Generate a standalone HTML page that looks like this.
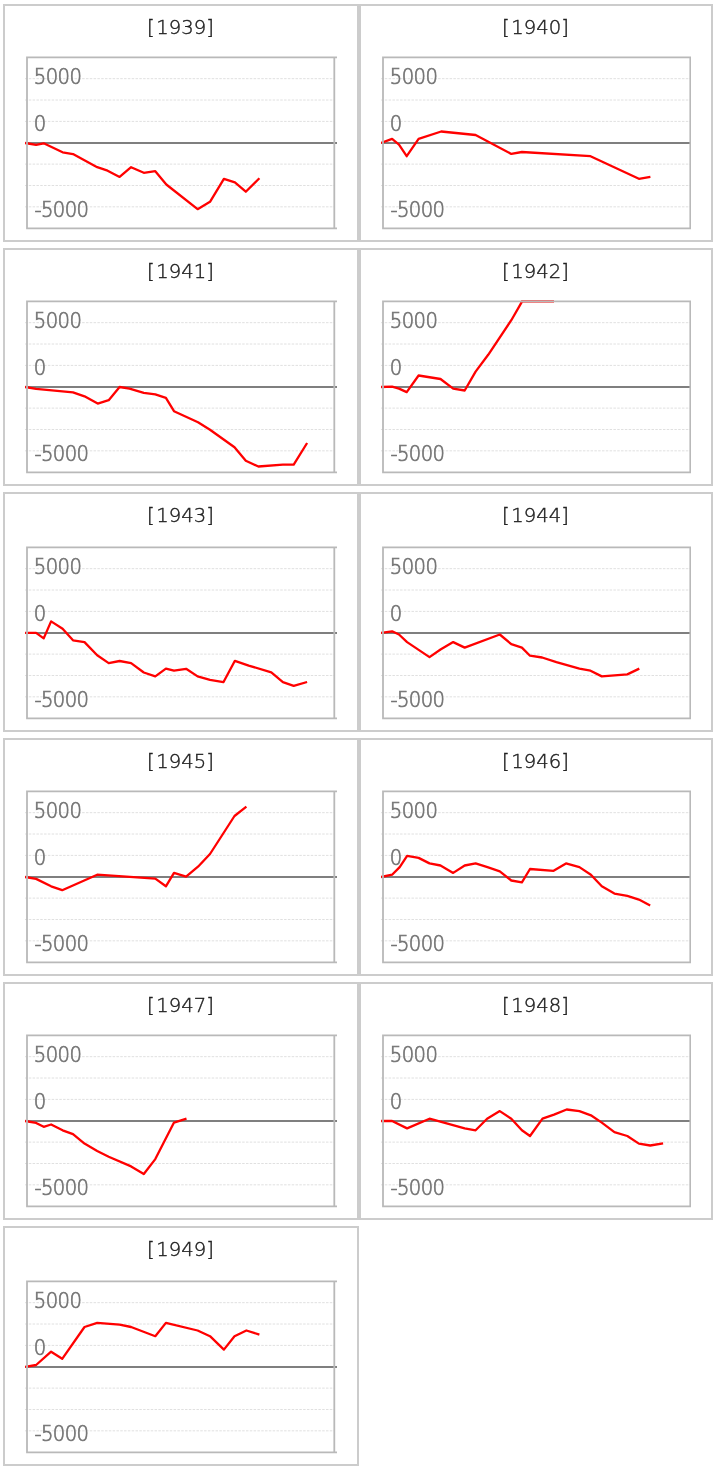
<!DOCTYPE html>
<html lang="ja">
<head>
<meta charset="utf-8">
<title>1939 - 1949</title>
<style>
html,body{margin:0;padding:0;background:#fff;}
body{width:716px;height:1469px;position:relative;overflow:hidden;font-family:"DejaVu Sans","Liberation Sans",sans-serif;}
.card{position:absolute;box-sizing:border-box;border:2px solid #ccc;background:#fff;}
.card h3{position:absolute;left:-0.5px;right:0.5px;top:8.8px;margin:0;font-size:20px;line-height:24px;font-weight:200;text-align:center;color:#222;-webkit-text-stroke:0.42px #222;}
.card h3 span{display:inline-block;transform:translateX(0.4px) scaleX(0.98);transform-origin:50% 50%;}
.card h3 i{font-style:normal;}
.card h3 i.l{margin-right:1.65px;}
.card h3 i.r{margin-left:0;}
.card .chart{position:absolute;left:20px;right:20px;top:40px;bottom:0;overflow:hidden;}
.card .chart svg{position:absolute;left:-22px;top:-42px;overflow:visible;}
.grid{stroke:#e0e0e0;stroke-width:1;stroke-dasharray:2.5 1.31;fill:none;}
.zero{stroke:#7f7f7f;stroke-width:2;fill:none;}
.box{stroke:#b9b9b9;stroke-width:1.8;fill:none;}
.line{stroke:#ff0000;stroke-width:2.3;fill:none;stroke-linejoin:round;stroke-linecap:butt;}
.clip{stroke:#f44;stroke-width:2.6;fill:none;}
.lbl{font-family:"DejaVu Sans","Liberation Sans",sans-serif;font-weight:200;font-size:20.9px;letter-spacing:-0.6px;fill:#747474;stroke:#747474;stroke-width:0.7;}
</style>
</head>
<body>
<div class="card" style="left:3px;top:4px;width:356px;height:238px">
<h3><span><i class="l">[</i>1939<i class="r">]</i></span></h3>
<div class="chart"><svg width="356" height="238" viewBox="0 0 356 238">
<g transform="translate(0,0)">
<line class="grid" x1="22.00" y1="74.66" x2="331.20" y2="74.66"/>
<line class="grid" x1="22.00" y1="96.02" x2="331.20" y2="96.02"/>
<line class="grid" x1="22.00" y1="117.39" x2="331.20" y2="117.39"/>
<line class="grid" x1="22.00" y1="160.11" x2="331.20" y2="160.11"/>
<line class="grid" x1="22.00" y1="181.47" x2="331.20" y2="181.47"/>
<line class="grid" x1="22.00" y1="202.84" x2="331.20" y2="202.84"/>
<line class="zero" x1="22.00" y1="139.00" x2="337.30" y2="139.00"/>
<polyline class="line" points="22.1,139.0 33.1,140.9 40.7,139.3 59.6,148.3 70.0,150.1 94.2,163.2 104.6,166.7 116.6,172.9 128.1,163.2 140.8,168.8 152.3,167.2 163.3,180.5 194.6,205.2 207.0,197.8 220.9,174.8 231.9,178.4 242.8,187.7 256.4,174.3"/>
<path class="box" d="M337.30 53.30H24.00V224.35H337.30M331.30 53.30V224.35"/>
<text class="lbl" transform="translate(30.80,79.80) scale(0.936,1)">5000</text>
<text class="lbl" transform="translate(30.80,126.80) scale(0.936,1)">0</text>
<text class="lbl" transform="translate(31.40,212.80) scale(0.936,1)">-5000</text>
</g>
</svg></div>
</div>
<div class="card" style="left:359px;top:4px;width:354px;height:238px">
<h3><span><i class="l">[</i>1940<i class="r">]</i></span></h3>
<div class="chart"><svg width="354" height="238" viewBox="0 0 354 238">
<g transform="translate(0,0)">
<line class="grid" x1="22.00" y1="74.66" x2="331.20" y2="74.66"/>
<line class="grid" x1="22.00" y1="96.02" x2="331.20" y2="96.02"/>
<line class="grid" x1="22.00" y1="117.39" x2="331.20" y2="117.39"/>
<line class="grid" x1="22.00" y1="160.11" x2="331.20" y2="160.11"/>
<line class="grid" x1="22.00" y1="181.47" x2="331.20" y2="181.47"/>
<line class="grid" x1="22.00" y1="202.84" x2="331.20" y2="202.84"/>
<line class="zero" x1="22.00" y1="139.00" x2="337.30" y2="139.00"/>
<polyline class="line" points="22.1,139.0 33.1,134.9 40.0,140.6 47.7,152.2 59.6,134.9 82.2,127.5 116.6,131.0 152.3,149.9 162.9,148.0 231.5,152.2 279.9,174.8 291.4,172.9"/>
<path class="box" d="M337.30 53.30H24.00V224.35H337.30M331.30 53.30V224.35"/>
<text class="lbl" transform="translate(30.80,79.80) scale(0.936,1)">5000</text>
<text class="lbl" transform="translate(30.80,126.80) scale(0.936,1)">0</text>
<text class="lbl" transform="translate(31.40,212.80) scale(0.936,1)">-5000</text>
</g>
</svg></div>
</div>
<div class="card" style="left:3px;top:248px;width:356px;height:238px">
<h3><span><i class="l">[</i>1941<i class="r">]</i></span></h3>
<div class="chart"><svg width="356" height="238" viewBox="0 0 356 238">
<g transform="translate(0,0)">
<line class="grid" x1="22.00" y1="74.66" x2="331.20" y2="74.66"/>
<line class="grid" x1="22.00" y1="96.02" x2="331.20" y2="96.02"/>
<line class="grid" x1="22.00" y1="117.39" x2="331.20" y2="117.39"/>
<line class="grid" x1="22.00" y1="160.11" x2="331.20" y2="160.11"/>
<line class="grid" x1="22.00" y1="181.47" x2="331.20" y2="181.47"/>
<line class="grid" x1="22.00" y1="202.84" x2="331.20" y2="202.84"/>
<line class="zero" x1="22.00" y1="139.00" x2="337.30" y2="139.00"/>
<polyline class="line" points="22.1,139.0 33.1,140.9 70.0,144.3 81.5,148.3 94.7,155.6 105.7,152.2 116.6,139.0 126.5,140.6 140.8,144.8 152.3,146.4 162.9,149.9 171.0,163.2 195.0,174.3 207.0,181.7 231.5,199.2 242.8,212.8 255.4,218.5 279.9,216.7 290.7,216.7 304.1,195.0"/>
<path class="box" d="M337.30 53.30H24.00V224.35H337.30M331.30 53.30V224.35"/>
<text class="lbl" transform="translate(30.80,79.80) scale(0.936,1)">5000</text>
<text class="lbl" transform="translate(30.80,126.80) scale(0.936,1)">0</text>
<text class="lbl" transform="translate(31.40,212.80) scale(0.936,1)">-5000</text>
</g>
</svg></div>
</div>
<div class="card" style="left:359px;top:248px;width:354px;height:238px">
<h3><span><i class="l">[</i>1942<i class="r">]</i></span></h3>
<div class="chart"><svg width="354" height="238" viewBox="0 0 354 238">
<g transform="translate(0,0)">
<line class="grid" x1="22.00" y1="74.66" x2="331.20" y2="74.66"/>
<line class="grid" x1="22.00" y1="96.02" x2="331.20" y2="96.02"/>
<line class="grid" x1="22.00" y1="117.39" x2="331.20" y2="117.39"/>
<line class="grid" x1="22.00" y1="160.11" x2="331.20" y2="160.11"/>
<line class="grid" x1="22.00" y1="181.47" x2="331.20" y2="181.47"/>
<line class="grid" x1="22.00" y1="202.84" x2="331.20" y2="202.84"/>
<line class="zero" x1="22.00" y1="139.00" x2="337.30" y2="139.00"/>
<polyline class="line" points="22.1,139.0 33.1,138.6 40.0,140.6 47.7,144.1 59.6,127.5 81.5,131.0 94.2,140.6 105.7,142.5 116.6,123.6 129.2,106.8 152.3,72.2 163.3,53.1"/>
<line class="clip" x1="162.2" y1="53.4" x2="195.0" y2="53.4"/>
<path class="box" d="M337.30 53.30H24.00V224.35H337.30M331.30 53.30V224.35"/>
<text class="lbl" transform="translate(30.80,79.80) scale(0.936,1)">5000</text>
<text class="lbl" transform="translate(30.80,126.80) scale(0.936,1)">0</text>
<text class="lbl" transform="translate(31.40,212.80) scale(0.936,1)">-5000</text>
</g>
</svg></div>
</div>
<div class="card" style="left:3px;top:492px;width:356px;height:240px">
<h3><span><i class="l">[</i>1943<i class="r">]</i></span></h3>
<div class="chart"><svg width="356" height="240" viewBox="0 0 356 240">
<g transform="translate(0,2)">
<line class="grid" x1="22.00" y1="74.66" x2="331.20" y2="74.66"/>
<line class="grid" x1="22.00" y1="96.02" x2="331.20" y2="96.02"/>
<line class="grid" x1="22.00" y1="117.39" x2="331.20" y2="117.39"/>
<line class="grid" x1="22.00" y1="160.11" x2="331.20" y2="160.11"/>
<line class="grid" x1="22.00" y1="181.47" x2="331.20" y2="181.47"/>
<line class="grid" x1="22.00" y1="202.84" x2="331.20" y2="202.84"/>
<line class="zero" x1="22.00" y1="139.00" x2="337.30" y2="139.00"/>
<polyline class="line" points="22.1,138.9 33.1,138.9 40.7,144.4 48.1,127.4 59.6,134.7 70.0,146.3 81.5,148.1 94.2,161.2 105.7,169.1 116.6,167.0 128.1,169.1 140.8,178.5 152.3,182.4 162.9,174.6 171.0,176.7 183.1,174.8 194.6,182.4 207.0,185.9 220.4,188.2 231.9,166.8 245.7,171.6 268.3,178.3 279.9,188.2 290.7,191.9 304.1,188.0"/>
<path class="box" d="M337.30 53.30H24.00V224.35H337.30M331.30 53.30V224.35"/>
<text class="lbl" transform="translate(30.80,79.80) scale(0.936,1)">5000</text>
<text class="lbl" transform="translate(30.80,126.80) scale(0.936,1)">0</text>
<text class="lbl" transform="translate(31.40,212.80) scale(0.936,1)">-5000</text>
</g>
</svg></div>
</div>
<div class="card" style="left:359px;top:492px;width:354px;height:240px">
<h3><span><i class="l">[</i>1944<i class="r">]</i></span></h3>
<div class="chart"><svg width="354" height="240" viewBox="0 0 354 240">
<g transform="translate(0,2)">
<line class="grid" x1="22.00" y1="74.66" x2="331.20" y2="74.66"/>
<line class="grid" x1="22.00" y1="96.02" x2="331.20" y2="96.02"/>
<line class="grid" x1="22.00" y1="117.39" x2="331.20" y2="117.39"/>
<line class="grid" x1="22.00" y1="160.11" x2="331.20" y2="160.11"/>
<line class="grid" x1="22.00" y1="181.47" x2="331.20" y2="181.47"/>
<line class="grid" x1="22.00" y1="202.84" x2="331.20" y2="202.84"/>
<line class="zero" x1="22.00" y1="139.00" x2="337.30" y2="139.00"/>
<polyline class="line" points="22.1,138.9 33.1,137.3 40.0,140.5 48.1,148.1 70.5,163.1 81.5,155.5 94.2,148.1 105.7,153.6 140.8,140.5 152.3,150.2 162.9,153.6 171.0,161.7 183.1,163.5 197.4,168.1 220.4,174.6 231.5,176.7 242.8,182.4 268.3,180.4 280.3,174.6"/>
<path class="box" d="M337.30 53.30H24.00V224.35H337.30M331.30 53.30V224.35"/>
<text class="lbl" transform="translate(30.80,79.80) scale(0.936,1)">5000</text>
<text class="lbl" transform="translate(30.80,126.80) scale(0.936,1)">0</text>
<text class="lbl" transform="translate(31.40,212.80) scale(0.936,1)">-5000</text>
</g>
</svg></div>
</div>
<div class="card" style="left:3px;top:738px;width:356px;height:238px">
<h3><span><i class="l">[</i>1945<i class="r">]</i></span></h3>
<div class="chart"><svg width="356" height="238" viewBox="0 0 356 238">
<g transform="translate(0,0)">
<line class="grid" x1="22.00" y1="74.66" x2="331.20" y2="74.66"/>
<line class="grid" x1="22.00" y1="96.02" x2="331.20" y2="96.02"/>
<line class="grid" x1="22.00" y1="117.39" x2="331.20" y2="117.39"/>
<line class="grid" x1="22.00" y1="160.11" x2="331.20" y2="160.11"/>
<line class="grid" x1="22.00" y1="181.47" x2="331.20" y2="181.47"/>
<line class="grid" x1="22.00" y1="202.84" x2="331.20" y2="202.84"/>
<line class="zero" x1="22.00" y1="139.00" x2="337.30" y2="139.00"/>
<polyline class="line" points="22.1,139.0 33.1,140.9 48.1,148.3 59.2,152.2 94.2,136.7 152.3,140.6 162.9,148.3 171.0,134.9 183.1,138.6 195.0,128.7 207.0,116.0 231.5,78.0 243.4,68.7"/>
<path class="box" d="M337.30 53.30H24.00V224.35H337.30M331.30 53.30V224.35"/>
<text class="lbl" transform="translate(30.80,79.80) scale(0.936,1)">5000</text>
<text class="lbl" transform="translate(30.80,126.80) scale(0.936,1)">0</text>
<text class="lbl" transform="translate(31.40,212.80) scale(0.936,1)">-5000</text>
</g>
</svg></div>
</div>
<div class="card" style="left:359px;top:738px;width:354px;height:238px">
<h3><span><i class="l">[</i>1946<i class="r">]</i></span></h3>
<div class="chart"><svg width="354" height="238" viewBox="0 0 354 238">
<g transform="translate(0,0)">
<line class="grid" x1="22.00" y1="74.66" x2="331.20" y2="74.66"/>
<line class="grid" x1="22.00" y1="96.02" x2="331.20" y2="96.02"/>
<line class="grid" x1="22.00" y1="117.39" x2="331.20" y2="117.39"/>
<line class="grid" x1="22.00" y1="160.11" x2="331.20" y2="160.11"/>
<line class="grid" x1="22.00" y1="181.47" x2="331.20" y2="181.47"/>
<line class="grid" x1="22.00" y1="202.84" x2="331.20" y2="202.84"/>
<line class="zero" x1="22.00" y1="139.00" x2="337.30" y2="139.00"/>
<polyline class="line" points="22.1,139.0 33.1,136.7 40.7,129.1 48.1,117.8 59.6,119.9 70.5,125.4 81.5,127.5 94.2,134.9 105.7,127.5 116.6,125.4 129.2,129.4 140.8,133.3 152.3,142.5 162.9,144.3 171.0,131.0 194.6,132.8 207.0,125.4 220.4,129.1 231.9,136.7 242.8,148.3 255.4,155.6 268.3,157.9 279.9,161.6 291.2,167.4"/>
<path class="box" d="M337.30 53.30H24.00V224.35H337.30M331.30 53.30V224.35"/>
<text class="lbl" transform="translate(30.80,79.80) scale(0.936,1)">5000</text>
<text class="lbl" transform="translate(30.80,126.80) scale(0.936,1)">0</text>
<text class="lbl" transform="translate(31.40,212.80) scale(0.936,1)">-5000</text>
</g>
</svg></div>
</div>
<div class="card" style="left:3px;top:982px;width:356px;height:238px">
<h3><span><i class="l">[</i>1947<i class="r">]</i></span></h3>
<div class="chart"><svg width="356" height="238" viewBox="0 0 356 238">
<g transform="translate(0,0)">
<line class="grid" x1="22.00" y1="74.66" x2="331.20" y2="74.66"/>
<line class="grid" x1="22.00" y1="96.02" x2="331.20" y2="96.02"/>
<line class="grid" x1="22.00" y1="117.39" x2="331.20" y2="117.39"/>
<line class="grid" x1="22.00" y1="160.11" x2="331.20" y2="160.11"/>
<line class="grid" x1="22.00" y1="181.47" x2="331.20" y2="181.47"/>
<line class="grid" x1="22.00" y1="202.84" x2="331.20" y2="202.84"/>
<line class="zero" x1="22.00" y1="139.00" x2="337.30" y2="139.00"/>
<polyline class="line" points="22.1,139.0 33.1,140.9 40.7,144.8 48.1,142.5 59.6,148.3 70.0,152.2 81.5,161.6 94.2,169.0 105.7,174.8 128.1,184.4 140.8,192.0 152.3,177.1 171.0,140.6 183.5,136.7"/>
<path class="box" d="M337.30 53.30H24.00V224.35H337.30M331.30 53.30V224.35"/>
<text class="lbl" transform="translate(30.80,79.80) scale(0.936,1)">5000</text>
<text class="lbl" transform="translate(30.80,126.80) scale(0.936,1)">0</text>
<text class="lbl" transform="translate(31.40,212.80) scale(0.936,1)">-5000</text>
</g>
</svg></div>
</div>
<div class="card" style="left:359px;top:982px;width:354px;height:238px">
<h3><span><i class="l">[</i>1948<i class="r">]</i></span></h3>
<div class="chart"><svg width="354" height="238" viewBox="0 0 354 238">
<g transform="translate(0,0)">
<line class="grid" x1="22.00" y1="74.66" x2="331.20" y2="74.66"/>
<line class="grid" x1="22.00" y1="96.02" x2="331.20" y2="96.02"/>
<line class="grid" x1="22.00" y1="117.39" x2="331.20" y2="117.39"/>
<line class="grid" x1="22.00" y1="160.11" x2="331.20" y2="160.11"/>
<line class="grid" x1="22.00" y1="181.47" x2="331.20" y2="181.47"/>
<line class="grid" x1="22.00" y1="202.84" x2="331.20" y2="202.84"/>
<line class="zero" x1="22.00" y1="139.00" x2="337.30" y2="139.00"/>
<polyline class="line" points="22.1,139.0 33.1,139.0 48.1,146.4 70.5,136.7 105.7,146.4 116.6,148.3 128.1,136.7 140.8,129.1 152.3,136.7 162.9,148.3 171.0,154.0 183.5,136.7 195.0,132.6 207.7,127.5 220.4,129.1 231.9,133.3 242.8,140.6 255.4,150.1 268.3,154.0 279.9,161.6 291.2,163.5 304.1,161.4"/>
<path class="box" d="M337.30 53.30H24.00V224.35H337.30M331.30 53.30V224.35"/>
<text class="lbl" transform="translate(30.80,79.80) scale(0.936,1)">5000</text>
<text class="lbl" transform="translate(30.80,126.80) scale(0.936,1)">0</text>
<text class="lbl" transform="translate(31.40,212.80) scale(0.936,1)">-5000</text>
</g>
</svg></div>
</div>
<div class="card" style="left:3px;top:1226px;width:356px;height:240px">
<h3><span><i class="l">[</i>1949<i class="r">]</i></span></h3>
<div class="chart"><svg width="356" height="240" viewBox="0 0 356 240">
<g transform="translate(0,2)">
<line class="grid" x1="22.00" y1="74.66" x2="331.20" y2="74.66"/>
<line class="grid" x1="22.00" y1="96.02" x2="331.20" y2="96.02"/>
<line class="grid" x1="22.00" y1="117.39" x2="331.20" y2="117.39"/>
<line class="grid" x1="22.00" y1="160.11" x2="331.20" y2="160.11"/>
<line class="grid" x1="22.00" y1="181.47" x2="331.20" y2="181.47"/>
<line class="grid" x1="22.00" y1="202.84" x2="331.20" y2="202.84"/>
<line class="zero" x1="22.00" y1="139.00" x2="337.30" y2="139.00"/>
<polyline class="line" points="22.1,138.9 33.1,137.0 48.1,123.7 59.2,130.8 81.5,99.0 94.2,94.9 116.6,96.7 128.1,99.0 152.3,108.2 162.9,94.9 194.6,102.5 207.0,108.2 220.9,121.6 231.5,108.2 243.4,102.5 256.4,106.6"/>
<path class="box" d="M337.30 53.30H24.00V224.35H337.30M331.30 53.30V224.35"/>
<text class="lbl" transform="translate(30.80,79.80) scale(0.936,1)">5000</text>
<text class="lbl" transform="translate(30.80,126.80) scale(0.936,1)">0</text>
<text class="lbl" transform="translate(31.40,212.80) scale(0.936,1)">-5000</text>
</g>
</svg></div>
</div>
</body>
</html>
